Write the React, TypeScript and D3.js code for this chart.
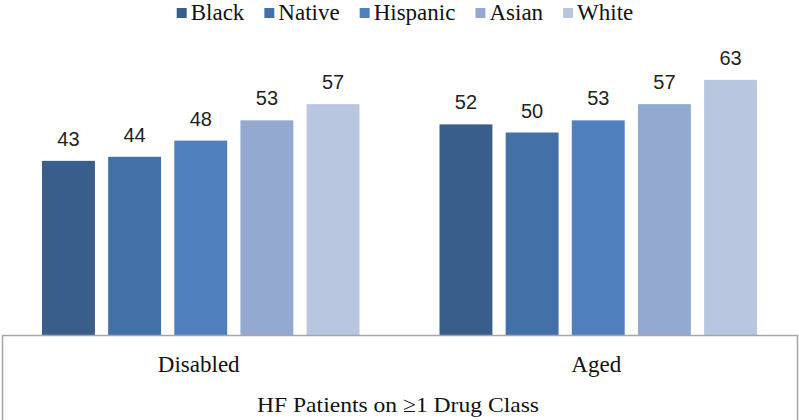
import React, { useEffect, useRef } from "react";
import * as d3 from "d3";

const categories = ["Disabled", "Aged"];
const seriesNames = ["Black", "Native", "Hispanic", "Asian", "White"];
const seriesColors = ["#3A5E8C", "#4370A7", "#4F80BD", "#93A9D0", "#B9C6E0"];
const valuesBlack = [43, 52];
const valuesNative = [44, 50];
const valuesHispanic = [48, 53];
const valuesAsian = [53, 57];
const valuesWhite = [57, 63];
const axisTitle = "HF Patients on \u22651 Drug Class";

const W = 799;
const H = 420;

export default function App() {
  const ref = useRef<SVGSVGElement | null>(null);

  useEffect(() => {
    const svg = d3.select(ref.current);
    svg.selectAll("*").remove();
    const series = [valuesBlack, valuesNative, valuesHispanic, valuesAsian, valuesWhite];

    const left = 2, right = 797, base = 335;
    const x0 = d3.scaleBand<string>().domain(categories).range([left, right]).paddingInner(0).paddingOuter(0);
    const x1 = d3.scaleBand<string>().domain(seriesNames).range([40, x0.bandwidth() - 40]).paddingInner(0.2).paddingOuter(0);
    const y = d3.scaleLinear().domain([0, 70]).range([base, base - 70 * 4.05]);

    const g = svg.append("g");
    categories.forEach((cat, ci) => {
      const cg = g.append("g").attr("transform", `translate(${x0(cat)},0)`);
      seriesNames.forEach((s, si) => {
        const v = series[si][ci];
        cg.append("rect")
          .attr("x", x1(s)!)
          .attr("y", y(v))
          .attr("width", x1.bandwidth())
          .attr("height", base - y(v))
          .attr("fill", seriesColors[si]);
        cg.append("text")
          .attr("x", x1(s)! + x1.bandwidth() / 2)
          .attr("y", y(v) - 15)
          .attr("text-anchor", "middle")
          .attr("font-family", "Liberation Sans, Arial, sans-serif")
          .attr("font-size", 20)
          .attr("fill", "#222")
          .text(String(v));
      });
      svg.append("text")
        .attr("x", x0(cat)! + x0.bandwidth() / 2 - 2)
        .attr("y", 372)
        .attr("text-anchor", "middle")
        .attr("font-family", "Liberation Serif, Times New Roman, serif")
        .attr("font-size", 23)
        .attr("fill", "#111")
        .text(cat);
    });

    // box
    svg.append("path")
      .attr("d", `M${left + 0.5},${H + 2}V${base + 0.5}H${right + 0.5}V${H + 2}`)
      .attr("fill", "none")
      .attr("stroke", "#A6A6A6")
      .attr("stroke-width", 1.5);

    svg.append("text")
      .attr("x", 398)
      .attr("y", 412)
      .attr("text-anchor", "middle")
      .attr("font-family", "Liberation Serif, Times New Roman, serif")
      .attr("font-size", 22)
      .attr("textLength", 282)
      .attr("lengthAdjust", "spacingAndGlyphs")
      .attr("fill", "#111")
      .text(axisTitle);

    // legend
    const lg = svg.append("g");
    let cx = 0;
    seriesNames.forEach((s, si) => {
      const ig = lg.append("g").attr("transform", `translate(${cx},0)`);
      ig.append("rect").attr("x", 0).attr("y", 8).attr("width", 10).attr("height", 10).attr("fill", seriesColors[si]);
      const t = ig.append("text")
        .attr("x", 14)
        .attr("y", 20)
        .attr("font-family", "Liberation Serif, Times New Roman, serif")
        .attr("font-size", 23)
        .attr("fill", "#111")
        .text(s);
      const tw = (t.node() as SVGTextElement).getComputedTextLength();
      cx += 14 + tw + 20;
    });
    const total = cx - 20;
    lg.attr("transform", `translate(${405 - total / 2},0)`);
  }, []);

  return (
    <svg
      ref={ref}
      width={W}
      height={H}
      style={{ position: "absolute", left: 0, top: 0, background: "#fff" }}
    />
  );
}
